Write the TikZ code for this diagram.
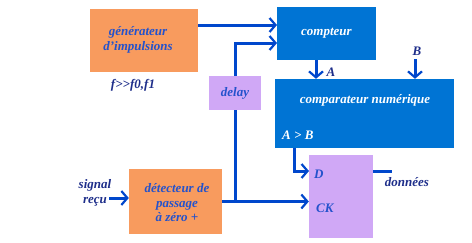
\documentclass[tikz,border=0pt]{standalone}
\usepackage{fontspec}
\setmainfont{Liberation Serif}
\usetikzlibrary{arrows.meta,calc}
\definecolor{orangebox}{HTML}{F89B5E}
\definecolor{bluebox}{HTML}{0074D4}
\definecolor{lavbox}{HTML}{D0A8F6}
\definecolor{wire}{HTML}{0047CC}
\definecolor{txtblue}{HTML}{2452CC}
\definecolor{navy}{HTML}{1E2E8A}
\tikzset{
  blk/.style={rectangle, inner sep=0pt, align=center, font=\fontsize{13}{14.5}\selectfont\bfseries\itshape},
  orangeblk/.style={blk, fill=orangebox, text=txtblue},
  blueblk/.style={blk, fill=bluebox, text=white},
  lavblk/.style={blk, fill=lavbox, text=txtblue},
  lbl/.style={inner sep=0pt, font=\fontsize{13}{14.5}\selectfont\bfseries\itshape, text=navy, align=center},
  wireline/.style={draw=wire, line width=3pt},
  arr/.style={wireline, -{Straight Barb[length=6pt,width=14pt,line width=2.2pt]}},
}
\begin{document}
\begin{tikzpicture}[x=1pt,y=-1pt]
\useasboundingbox (0,0) rectangle (472,242);
% blocks
\node[orangeblk, minimum width=108pt, minimum height=63pt] (gen) at (144,40.5) {};
\node[blk, text=txtblue] (gent) at (138,40) {générateur\\d'impulsions};
\node[blueblk, minimum width=99pt, minimum height=53pt] (cnt) at (326.5,33.5) {compteur};
\node[lavblk, minimum width=52pt, minimum height=34pt] (delay) at (235,93) {delay};
\node[orangeblk, minimum width=93pt, minimum height=65pt] (det) at (175.5,201.5) {};
\node[blk, text=txtblue] (dett) at (177,203) {détecteur de\\passage\\à zéro +};
\node[blueblk, minimum width=179pt, minimum height=69pt] (comp) at (364.5,113.5) {};
\node[blk, text=white] (compt) at (365,100) {comparateur numérique};
\node[blk, text=white, anchor=west] (agtb) at (282,135) {A > B};
\node[lavblk, minimum width=64pt, minimum height=83pt] (ff) at (341,196.5) {};
\node[blk, text=txtblue, anchor=west] (dlbl) at (314,174) {D};
\node[blk, text=txtblue, anchor=west] (cklbl) at (316,208) {CK};
% labels
\node[lbl] (flbl) at (133,85) {f{>}{>}f0,f1};
\node[lbl] (sig) at (95,193) {signal\\reçu};
\node[lbl] (albl) at (331,72) {A};
\node[lbl] (blbl) at (417,51) {B};
\node[lbl] (out) at (407,182) {données};
% coordinates
\coordinate (cin1) at (277,25);
\coordinate (cin2) at (277,43);
\coordinate (sigstart) at (109,198);
\coordinate (dstart) at (294,148);
\coordinate (din) at (309,171);
\coordinate (outend) at (392,171);
\coordinate (astart) at (316,60);
\coordinate (bstart) at (415,59);
% connectors
\draw[arr] (gen.east |- cin1) -- (cin1);
\draw[arr] (delay.north) |- (cin2);
\draw[wireline] (delay.south) -- (delay.south |- det.east);
\draw[arr] (det.east) -- (ff.west |- det.east);
\draw[arr] (sigstart) -- (det.west |- sigstart);
\draw[arr] (astart) -- (comp.north -| astart);
\draw[arr] (bstart) -- (comp.north -| bstart);
\draw[arr] (dstart) |- (din);
\draw[wireline] (ff.east |- din) -- (outend);
\end{tikzpicture}
\end{document}
